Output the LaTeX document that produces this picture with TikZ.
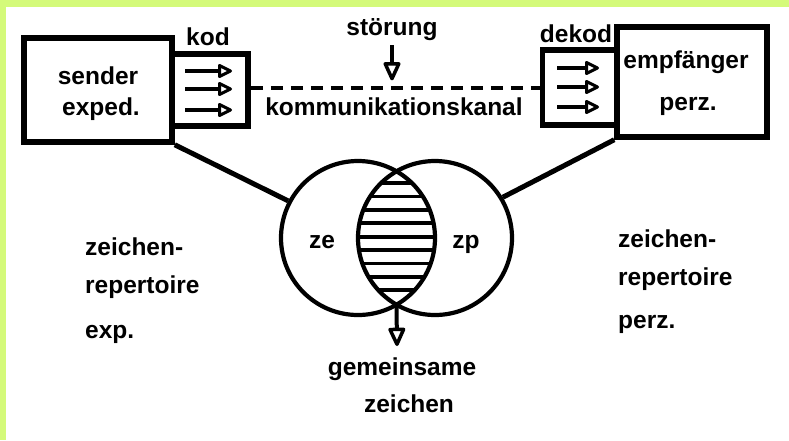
\documentclass[tikz,border=0pt]{standalone}
\usepackage{fontspec}
\setmainfont{Liberation Sans}
\usetikzlibrary{arrows.meta,calc}
\definecolor{framegreen}{RGB}{212,250,122}

\begin{document}
\begin{tikzpicture}[x=1pt,y=-1pt,
  lbl/.style={font=\fontsize{24.5}{28}\selectfont\bfseries, inner sep=0pt, anchor=base},
  lbll/.style={lbl, anchor=base west},
  box/.style={draw, line width=5.5pt, rectangle, inner sep=0pt},
  ring/.style={draw, line width=4.2pt, circle, minimum size=154pt, inner sep=0pt},
  link/.style={line width=5pt},
  sig/.style={line width=4pt, -{Triangle[open, length=16pt, width=15pt, line width=3pt, round]}},
  bigsig/.style={line width=4pt, -{Triangle[open, length=21pt, width=18pt, line width=3.5pt, round]}},
  hatch/.style={line width=3.8pt},
]
% paper with green frame on the top and left
\fill[framegreen] (0,0) rectangle (789,440);
\fill[white] (6,7) rectangle (789,440);
\useasboundingbox (0,0) rectangle (789,440);

% sender / receiver with coder and decoder
\node[box, minimum width=148pt, minimum height=104pt] (sender) at (98,90) {};
\node[box, minimum width=76pt, minimum height=72pt] (kod) at (210,90) {};
\node[box, minimum width=75pt, minimum height=75pt] (dekod) at (580,87.5) {};
\node[box, minimum width=150pt, minimum height=110pt] (empf) at (692,82) {};

\node[lbl] (sendt) at (98,84) {sender};
\node[lbl] (exped) at (101,115) {exped.};
\node[lbl] (empft) at (686,68) {empfänger};
\node[lbl] (perz) at (688,110) {perz.};
\node[lbl] (kodl) at (208,45) {kod};
\node[lbl] (dekodl) at (576,42) {dekod};

% signal arrows inside coder and decoder
\foreach \dy in {-19,-1,20}
  \draw[sig] ($(kod.center)+(-25,\dy)$) -- ++(47,0);
\foreach \dy in {-19.5,-0.5,19.5}
  \draw[sig] ($(dekod.center)+(-23,\dy)$) -- ++(42,0);

% channel with noise
\draw[line width=4pt, dash pattern=on 12pt off 8pt] (kod.east |- dekod.west) -- (dekod.west);
\node[lbl] (stoer) at (392,35) {störung};
\draw[bigsig] ([yshift=-5pt]stoer.south) -- ++(0,35);
\node[lbl] (kanal) at (394,115) {kommunikationskanal};

% sign repertoires
\node[ring] (cle) at (358,238) {};
\node[ring] (clp) at (435,238) {};
\begin{scope}
  \clip (cle.center) circle[radius=77pt];
  \clip (clp.center) circle[radius=77pt];
  \foreach \k in {0,...,10}
    \draw[hatch] (350,169.6+13.4*\k) -- (445,169.6+13.4*\k);
\end{scope}
\node[lbl] (zel) at (322,248) {ze};
\node[lbl] (zpl) at (466,248) {zp};

\draw[link] (sender.south east) -- (cle.152);
\draw[link] (empf.south west) -- (clp.31);

% common signs
\coordinate (lensbot) at (396.5,304.7);
\coordinate (tip) at (397,346);
\draw[bigsig] (lensbot) -- (tip);
\node[lbl] (gem) at (402,375) {gemeinsame};
\node[lbl] (zei) at (409,412) {zeichen};

% side labels
\node[lbll] (l1) at (85,255) {zeichen-};
\node[lbll] (l2) at (85,293) {repertoire};
\node[lbll] (l3) at (85,338) {exp.};
\node[lbll] (r1) at (618,247) {zeichen-};
\node[lbll] (r2) at (618,285) {repertoire};
\node[lbll] (r3) at (618,328) {perz.};
\end{tikzpicture}
\end{document}
